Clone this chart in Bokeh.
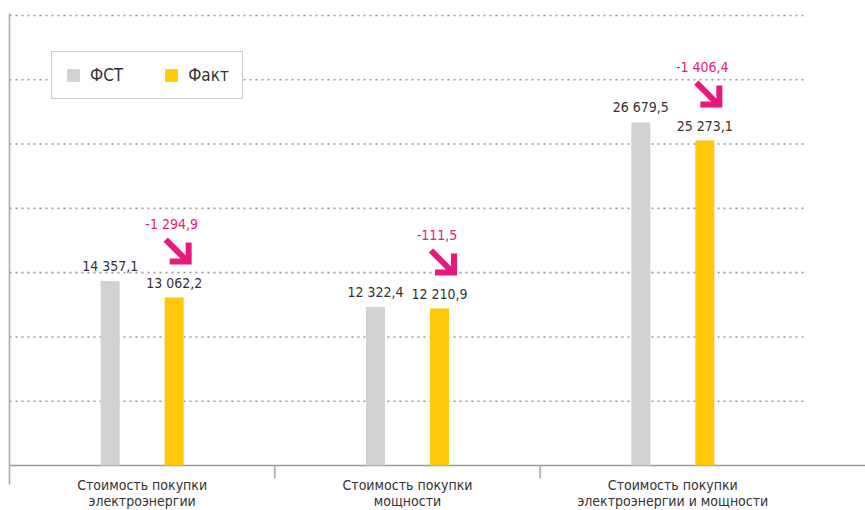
from bokeh.plotting import figure
from bokeh.models import Range1d, Legend, LegendItem
from bokeh.core.properties import value
from bokeh.embed import file_html
from bokeh.resources import INLINE

# ---------------- data ----------------
categories = ["Стоимость покупки\nэлектроэнергии",
              "Стоимость покупки\nмощности",
              "Стоимость покупки\nэлектроэнергии и мощности"]
series_names = ["ФСТ", "Факт"]
fst = [14357.1, 12322.4, 26679.5]
fact = [13062.2, 12210.9, 25273.1]
delta = [-1294.9, -111.5, -1406.4]
grid_values = [5000, 10000, 15000, 20000, 25000, 30000, 35000]

# ---------------- styles ----------------
FONT = "'DejaVu Sans Condensed', Roboto, sans-serif"
GRAY = "#d1d2d4"
YELLOW = "#ffc80b"
PINK = "#e8197d"
TEXT = "#333333"

W, H = 865, 510
ncat = len(categories)
LEFT_PX = 9            # page x of category start
AXIS_PX = 465          # page y of the zero line
TOP_PX = 15            # page y of top grid value
cat_px = 265.33
PX = 1.0 / cat_px
PY = grid_values[-1] / (AXIS_PX - TOP_PX)


def fmt(v):
    s = f"{abs(v):,.1f}".replace(",", " ").replace(".", ",")
    return ("-" if v < 0 else "") + s


centers = [i + 0.5 for i in range(ncat)]
x_fst = [c - 32 * PX for c in centers]
x_fact = [c + 32 * PX for c in centers]

p = figure(width=W, height=H, output_backend="svg", toolbar_location=None,
           x_range=Range1d(-LEFT_PX * PX, (W - LEFT_PX) * PX),
           y_range=Range1d(-(H - AXIS_PX) * PY, AXIS_PX * PY),
           x_axis_location=None, y_axis_location=None,
           min_border=0)
p.outline_line_color = None
p.xgrid.visible = False
p.ygrid.visible = False

# dotted grid lines over the category bands only
p.segment(x0=[0] * len(grid_values), x1=[ncat] * len(grid_values),
          y0=grid_values, y1=grid_values,
          line_color="#9a9a9a", line_width=1.6, line_dash="2 4")

# axis lines and category separators
p.segment(x0=[0], x1=[(W - LEFT_PX) * PX], y0=[0], y1=[0],
          line_color="#9a9a9a", line_width=1.5)
p.segment(x0=[0], x1=[0], y0=[-19 * PY], y1=[grid_values[-1] + 2 * PY],
          line_color="#a8a8a8", line_width=1.5)
p.segment(x0=list(range(1, ncat)), x1=list(range(1, ncat)),
          y0=[0] * (ncat - 1), y1=[-13 * PY] * (ncat - 1),
          line_color="#b8b8b8", line_width=2)

bw = 19 * PX
r_fst = p.vbar(x=x_fst, top=fst, width=bw, bottom=0, fill_color=GRAY, line_color=None)
r_fact = p.vbar(x=x_fact, top=fact, width=bw, bottom=0, fill_color=YELLOW, line_color=None)

p.text(x=x_fst, y=fst, text=[fmt(v) for v in fst], text_align="center",
       text_baseline="bottom", y_offset=-7, text_font=value(FONT),
       text_font_size="14px", text_color=TEXT)
p.text(x=x_fact, y=fact, text=[fmt(v) for v in fact], text_align="center",
       text_baseline="bottom", y_offset=-7, text_font=value(FONT),
       text_font_size="14px", text_color=TEXT)

# difference arrows
tip_x = [x + 14.5 * PX for x in x_fact]
tip_y = [v + 36 * PY for v in fact]
p.segment(x0=[x - 23 * PX for x in tip_x], y0=[y + 22 * PY for y in tip_y],
          x1=[x - 2 * PX for x in tip_x], y1=[y + 1 * PY for y in tip_y],
          line_color=PINK, line_width=6)
p.multi_line(xs=[[x - 19 * PX, x, x] for x in tip_x],
             ys=[[y, y, y + 19 * PY] for y in tip_y],
             line_color=PINK, line_width=6, line_join="miter")
p.text(x=[x - 17 * PX for x in tip_x], y=[y + 38 * PY for y in tip_y],
       text=[fmt(v) for v in delta], text_align="center", text_baseline="middle",
       text_font=value(FONT), text_font_size="14px", text_color=PINK)

# category labels under the axis
p.text(x=centers, y=[-11 * PY] * ncat, text=categories,
       text_align="center", text_baseline="top", text_line_height=1.05,
       text_font=value(FONT), text_font_size="14px", text_color=TEXT)

legend = Legend(items=[LegendItem(label=series_names[0], renderers=[r_fst]),
                       LegendItem(label=series_names[1], renderers=[r_fact])],
                location=(51, H - 99), orientation="horizontal",
                border_line_color="#999999", border_line_width=1,
                background_fill_color="white", background_fill_alpha=1,
                padding=13, spacing=40, margin=0,
                glyph_width=16, glyph_height=16, label_standoff=9,
                label_text_font=FONT, label_text_font_size="17px",
                label_text_color=TEXT, label_height=16)
p.add_layout(legend)

open("out.html", "w").write(file_html(p, INLINE))
